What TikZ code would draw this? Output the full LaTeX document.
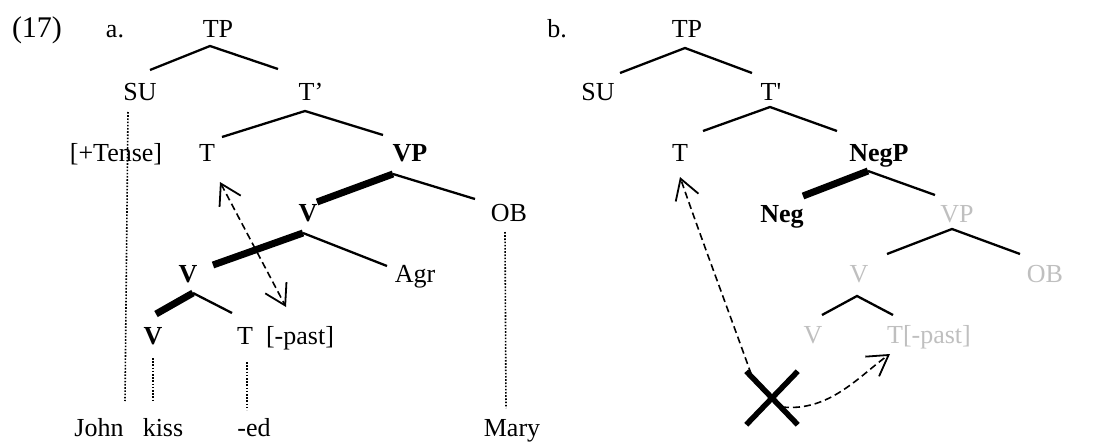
\documentclass[tikz,border=0pt]{standalone}
\usepackage{fontspec}
\setmainfont{Liberation Serif}[Ligatures=TeXOff]
\usetikzlibrary{arrows.meta,shapes.misc,calc}
\begin{document}
\begin{tikzpicture}[x=1pt,y=-1pt,
  lbl/.style={anchor=base,inner sep=0pt,font=\fontsize{26}{30}\selectfont},
  bl/.style={lbl,font=\fontsize{26}{30}\selectfont\bfseries},
  gl/.style={lbl,text=gray!50},
  br/.style={line width=2.3pt},
  hd/.style={line width=7pt},
  dl/.style={line width=1.6pt,dash pattern=on 1.6pt off 1.6pt},
  mv/.style={line width=1.6pt,dash pattern=on 7pt off 4pt},
  tip/.tip={Straight Barb[length=20pt,width=24pt,line width=1.8pt]}]
\useasboundingbox (0,0) rectangle (1104,442);

% ---------- (17a) ----------
\node[lbl,font=\fontsize{30}{34}\selectfont] (ex) at (37,37) {(17)};
\node[lbl] (a) at (115,37) {a.};
\node[lbl] (aTP) at (218,37) {TP};
\node[lbl] (aSU) at (140,100) {SU};
\node[lbl] (aTb) at (311,100) {T’};
\node[lbl] (aTense) at (116,161) {[+Tense]};
\node[lbl] (aT) at (207,161) {T};
\node[bl] (aVP) at (410,161) {VP};
\node[bl] (aV1) at (308,221) {V};
\node[lbl] (aOB) at (509,221) {OB};
\node[bl] (aV2) at (188,282) {V};
\node[lbl] (aAgr) at (415,282) {Agr};
\node[bl] (aV3) at (153,344) {V};
\node[lbl] (aT2) at (245,344) {T};
\node[lbl] (apast) at (300,344) {[-past]};
\node[lbl] (john) at (99,436) {John};
\node[lbl] (kiss) at (163,436) {kiss};
\node[lbl] (ed) at (254,436) {-ed};
\node[lbl] (mary) at (512,436) {Mary};

\coordinate (aTPa) at (210,46);  \coordinate (aTPl) at (150,70);  \coordinate (aTPr) at (278,69);
\coordinate (aTba) at (305,111); \coordinate (aTbl) at (222,137); \coordinate (aTbr) at (383,135);
\coordinate (aVPa) at (393,174); \coordinate (aVPl) at (317,202); \coordinate (aVPr) at (475,199);
\coordinate (aV1a) at (303,233); \coordinate (aV1l) at (213,265); \coordinate (aV1r) at (387,266);
\coordinate (aV2a) at (193,293); \coordinate (aV2l) at (156,314); \coordinate (aV2r) at (232,313);

\draw[br] (aTPl) -- (aTPa) -- (aTPr);
\draw[br] (aTbl) -- (aTba) -- (aTbr);
\draw[hd] (aVPl) -- (aVPa); \draw[br] (aVPa) -- (aVPr);
\draw[hd] (aV1l) -- (aV1a); \draw[br] (aV1a) -- (aV1r);
\draw[hd] (aV2l) -- (aV2a); \draw[br] (aV2a) -- (aV2r);

\coordinate (dSUt) at (128,112); \coordinate (dSUb) at (125,401);
\coordinate (dkt) at (153,358);  \coordinate (dkb) at (153,402);
\coordinate (det) at (247,362);  \coordinate (deb) at (247,410);
\coordinate (dOt) at (505,232);  \coordinate (dOb) at (506,408);
\draw[dl] (dSUt) -- (dSUb);
\draw[dl] (dkt) -- (dkb);
\draw[dl] (det) -- (deb);
\draw[dl] (dOt) -- (dOb);

\coordinate (amt) at (220,182); \coordinate (amb) at (286,307);
\draw[mv,{tip}-{tip}] (amt) -- (amb);

% ---------- (17b) ----------
\node[lbl] (b) at (557,37) {b.};
\node[lbl] (bTP) at (687,37) {TP};
\node[lbl] (bSU) at (598,100) {SU};
\node[lbl] (bTb) at (771,100) {T'};
\node[lbl] (bT) at (680,161) {T};
\node[bl] (bNegP) at (879,161) {NegP};
\node[bl] (bNeg) at (782,222) {Neg};
\node[gl] (bVP) at (957,222) {VP};
\node[gl] (bV1) at (859,282) {V};
\node[gl] (bOB) at (1045,282) {OB};
\node[gl] (bV2) at (813,343) {V};
\node[gl] (bTp) at (929,343) {T[-past]};

\coordinate (bTPa) at (685,48);  \coordinate (bTPl) at (620,73);  \coordinate (bTPr) at (752,73);
\coordinate (bTba) at (770,107); \coordinate (bTbl) at (703,131); \coordinate (bTbr) at (837,131);
\coordinate (bNPa) at (868,171); \coordinate (bNPl) at (803,196); \coordinate (bNPr) at (935,195);
\coordinate (bVPa) at (952,229); \coordinate (bVPl) at (887,254); \coordinate (bVPr) at (1020,254);
\coordinate (bV1a) at (857,296); \coordinate (bV1l) at (822,315); \coordinate (bV1r) at (893,315);

\draw[br] (bTPl) -- (bTPa) -- (bTPr);
\draw[br] (bTbl) -- (bTba) -- (bTbr);
\draw[hd] (bNPl) -- (bNPa); \draw[br] (bNPa) -- (bNPr);
\draw[br] (bVPl) -- (bVPa) -- (bVPr);
\draw[br] (bV1l) -- (bV1a) -- (bV1r);

\node[draw,cross out,line width=5.5pt,inner sep=0pt,minimum width=46pt,minimum height=48pt] (X) at (772,398) {};
\coordinate (bTtip) at (680,177);
\coordinate (bPtip) at (890,354);
\draw[mv,-{tip}] ($(X.north west)+(5,3)$) .. controls (730,315) and (700,235) .. (bTtip);
\draw[mv,-{tip}] ($(X.center)+(10,9)$) .. controls (830,412) and (860,375) .. (bPtip);
\end{tikzpicture}
\end{document}
